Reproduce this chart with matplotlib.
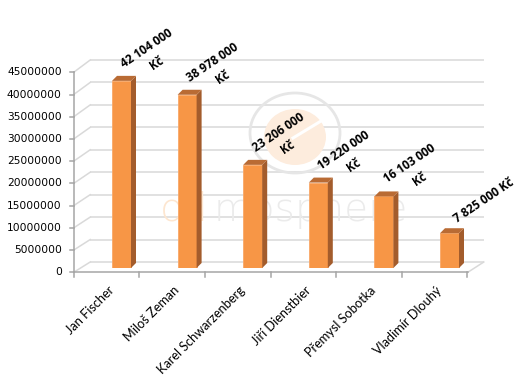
import matplotlib
matplotlib.use("Agg")
import matplotlib.pyplot as plt
from matplotlib.patches import Polygon, Ellipse
import numpy as np

# ---------------- data ----------------
candidates = ["Jan Fischer", "Miloš Zeman", "Karel Schwarzenberg",
              "Jiří Dienstbier", "Přemysl Sobotka", "Vladimír Dlouhý"]
values = [42104000, 38978000, 23206000, 19220000, 16103000, 7825000]
value_labels = ["42 104 000\nKč", "38 978 000\nKč", "23 206 000\nKč",
                "19 220 000\nKč", "16 103 000\nKč", "7 825 000 Kč"]
y_ticks = [0, 5000000, 10000000, 15000000, 20000000, 25000000,
           30000000, 35000000, 40000000, 45000000]
watermark = ["od", "mosphere"]

# ---------------- layout (pixels) ----------------
W, H = 527, 376
fig = plt.figure(figsize=(W / 100, H / 100), dpi=100)
fig.patch.set_facecolor("white")

ax_left_px, ax_right_px = 88.7, 482.3
ax_top_px, ax_bot_px = 68.0, 268.0
ax = fig.add_axes([ax_left_px / W, (H - ax_bot_px) / H,
                   (ax_right_px - ax_left_px) / W, (ax_bot_px - ax_top_px) / H])
n = len(candidates)
ax.set_xlim(-0.5, n - 0.5)
ax.set_ylim(0, 45000000)
ax.axis("off")

px_x = (ax_right_px - ax_left_px) / n          # pixels per category
px_y = (ax_bot_px - ax_top_px) / 45000000      # pixels per unit value


def dx(p):
    return p / px_x


def dy(p):  # p = pixels upward
    return p / px_y


def px2data(x, y):
    """image pixel (from top-left) -> data coords"""
    return (x - ax_left_px) / px_x - 0.5, (ax_bot_px - y) / px_y


grid_c = "#d9d9d9"
axis_c = "#a6a6a6"
x0, x1 = -0.5, n - 0.5

# back wall plane offsets
bx = dx(1.5)
def back_y(v):
    return dy(6) + v * (202.0 / 200.0)

# front plane offsets
fx = dx(-15)
def front_y(v):
    return v - dy(4.3)

# ---- back wall gridlines and left wall diagonals ----
for t in y_ticks:
    ax.plot([x0 + bx, x1 + bx], [back_y(t), back_y(t)], color=grid_c, lw=1.1,
            zorder=1, clip_on=False, solid_capstyle="butt")
    ax.plot([x0 + fx, x0 + bx], [front_y(t), back_y(t)], color=grid_c, lw=1.1,
            zorder=1, clip_on=False)

# floor right edge
ax.plot([x1 + fx + dx(0.5), x1 + bx], [front_y(0), back_y(0)], color=grid_c,
        lw=1.1, zorder=1, clip_on=False)

# ---- watermark ----
cx, cy = px2data(295, 137)
ax.add_patch(Ellipse((cx, cy), width=dx(62), height=dy(56),
                     facecolor="#fdecdd", edgecolor="none", zorder=1.2,
                     clip_on=False))
ox_, oy_ = px2data(295, 133)
ax.add_patch(Ellipse((ox_, oy_), width=dx(90), height=dy(80),
                     facecolor="none", edgecolor="#e6e6e6", lw=2.0,
                     zorder=1.3, clip_on=False))
s0 = px2data(293, 138)
s1 = px2data(326, 118)
ax.plot([s0[0], s1[0]], [s0[1], s1[1]], color="white", lw=2.2, zorder=1.4,
        clip_on=False)
wx, wy = px2data(160, 221)
ax.text(wx, wy, watermark[0], fontsize=28, color="#fde6d0",
        family="DejaVu Sans", fontweight="light", ha="left",
        va="baseline", zorder=1.5)
wx2, _ = px2data(214, 221)
ax.text(wx2, wy, watermark[1], fontsize=28, color="#ebebeb",
        family="DejaVu Sans", fontweight="light", ha="left",
        va="baseline", zorder=1.5)

# ---- front axes ----
ax.plot([x0 + fx, x0 + fx], [front_y(0), front_y(y_ticks[-1])], color=axis_c,
        lw=1.1, zorder=2, clip_on=False)
ax.plot([x0 + fx, x1 + fx + dx(0.5)], [front_y(0), front_y(0)], color=axis_c,
        lw=1.1, zorder=2, clip_on=False)
for t in y_ticks:
    ax.plot([x0 + fx - dx(4), x0 + fx], [front_y(t), front_y(t)], color=axis_c,
            lw=1.1, zorder=2, clip_on=False)
    ax.text(x0 + fx - dx(12), front_y(t), f"{t}", ha="right", va="center",
            fontsize=7.7, family="DejaVu Sans", color="#000000")
for k in range(n + 1):
    xk = x0 + k + fx
    ax.plot([xk, xk], [front_y(0), front_y(0) - dy(5)], color=axis_c, lw=1.1,
            zorder=2, clip_on=False)

# category labels
for i, name in enumerate(candidates):
    ax.text(i + fx + dx(1), front_y(0) - dy(12), name, rotation=45,
            rotation_mode="anchor", ha="right", va="top", fontsize=9.2,
            family="Lato", color="#000000")

# ---- bars ----
bw = 19.0 / px_x
sx, sy = dx(5), dy(5)
front_c, side_c, top_c = "#F79646", "#A35C2C", "#B96B34"
ax.bar(range(n), values, width=bw, color=front_c, edgecolor="#f9a868",
       linewidth=0.6, zorder=3)
for i, v in enumerate(values):
    xl, xr = i - bw / 2, i + bw / 2
    ax.add_patch(Polygon([(xr, 0), (xr + sx, sy), (xr + sx, v + sy), (xr, v)],
                         closed=True, facecolor=side_c, edgecolor="none",
                         zorder=3, clip_on=False))
    ax.add_patch(Polygon([(xl, v), (xr, v), (xr + sx, v + sy), (xl + sx, v + sy)],
                         closed=True, facecolor=top_c, edgecolor="none",
                         zorder=3, clip_on=False))

# value labels
for i, (v, lab) in enumerate(zip(values, value_labels)):
    if "\n" in lab:
        ox, oy = 30.5, 25
    else:
        ox, oy = 34, 33
    ax.text(i + dx(ox), v + dy(oy), lab, rotation=34, rotation_mode="anchor",
            ha="center", va="center", multialignment="center",
            fontsize=8.5, fontweight="bold", family="Open Sans", color="#000000",
            linespacing=1.5, zorder=5)

fig.savefig("out.png", dpi=100)
